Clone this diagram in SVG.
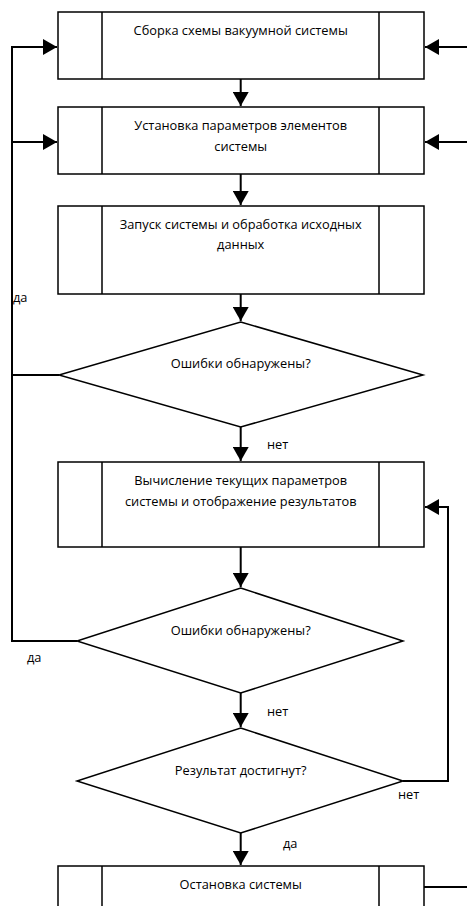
<svg xmlns="http://www.w3.org/2000/svg" width="467" height="906" viewBox="0 0 467 906">
<style>
.b{fill:#fff;stroke:#000;stroke-width:1.5}
.l{fill:none;stroke:#000;stroke-width:1.5}
.c{fill:none;stroke:#000;stroke-width:2}
text{font-family:"Open Sans","Liberation Sans",sans-serif;font-size:12.8px;fill:#000}
.m{text-anchor:middle}
</style>
<defs>
<marker id="a" markerUnits="userSpaceOnUse" markerWidth="16" markerHeight="16" refX="14" refY="8" orient="auto" viewBox="0 0 16 16">
<path d="M0,0 L14,8 L0,16 Z" fill="#000"/>
</marker>
</defs>
<g id="connectors">
<path class="c" d="M240.7,79 V106" marker-end="url(#a)"/>
<path class="c" d="M240.7,174 V205" marker-end="url(#a)"/>
<path class="c" d="M240.7,294 V321" marker-end="url(#a)"/>
<path class="c" d="M240.7,427 V461" marker-end="url(#a)"/>
<path class="c" d="M240.7,547 V587" marker-end="url(#a)"/>
<path class="c" d="M240.7,693 V727" marker-end="url(#a)"/>
<path class="c" d="M240.7,833 V865" marker-end="url(#a)"/>
<path class="c" d="M59,375 H12 V47 H57" marker-end="url(#a)"/>
<path class="c" d="M12,142 H57" marker-end="url(#a)"/>
<path class="c" d="M77,641 H12 V375"/>
<path class="c" d="M467,47 H425" marker-end="url(#a)"/>
<path class="c" d="M467,142 H425" marker-end="url(#a)"/>
<path class="c" d="M403,781 H448 V507 H425" marker-end="url(#a)"/>
<path class="c" d="M424,887 H467"/>
</g>
<g id="n1">
<rect class="b" x="58" y="12" width="366" height="67"/>
<path class="l" d="M102,12 V79 M379,12 V79"/>
<text class="m" x="240.7" y="35">Сборка схемы вакуумной системы</text>
</g>
<g id="n2">
<rect class="b" x="58" y="107" width="366" height="67"/>
<path class="l" d="M102,107 V174 M379,107 V174"/>
<text class="m" x="240.7" y="130">Установка параметров элементов</text>
<text class="m" x="240.7" y="151">системы</text>
</g>
<g id="n3">
<rect class="b" x="58" y="206" width="366" height="88"/>
<path class="l" d="M102,206 V294 M379,206 V294"/>
<text class="m" x="240.7" y="229">Запуск системы и обработка исходных</text>
<text class="m" x="240.7" y="249">данных</text>
</g>
<g id="d1">
<polygon class="b" points="240.7,322 423,375 240.7,427 59,375"/>
<text class="m" x="240.7" y="368">Ошибки обнаружены?</text>
</g>
<g id="n4">
<rect class="b" x="58" y="462" width="366" height="85"/>
<path class="l" d="M102,462 V547 M379,462 V547"/>
<text class="m" x="240.7" y="485">Вычисление текущих параметров</text>
<text class="m" x="240.7" y="506">системы и отображение результатов</text>
</g>
<g id="d2">
<polygon class="b" points="240.7,588 403,641 240.7,693 77,641"/>
<text class="m" x="240.7" y="635">Ошибки обнаружены?</text>
</g>
<g id="d3">
<polygon class="b" points="240.7,728 403,781 240.7,833 77,781"/>
<text class="m" x="240.7" y="775">Результат достигнут?</text>
</g>
<g id="n5">
<rect class="b" x="58" y="866" width="366" height="60"/>
<path class="l" d="M102,866 V906 M379,866 V906"/>
<text class="m" x="240.7" y="889">Остановка системы</text>
</g>
<g id="labels">
<text x="13" y="302">да</text>
<text x="27" y="662">да</text>
<text x="267" y="449">нет</text>
<text x="267" y="716">нет</text>
<text x="398" y="799">нет</text>
<text x="283" y="848">да</text>
</g>
</svg>
